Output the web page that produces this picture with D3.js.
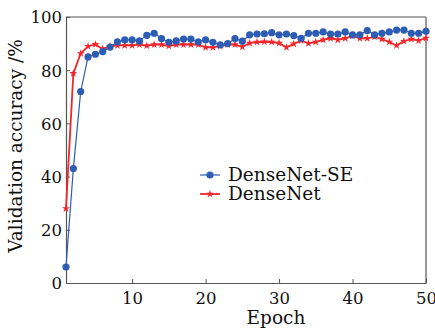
<!DOCTYPE html>
<html>
<head>
<meta charset="utf-8">
<script src="https://cdn.jsdelivr.net/npm/d3@7"></script>
<style>
  body { margin: 0; background: #fff; }
  svg { display: block; font-family: 'DejaVu Serif', 'Liberation Serif', serif; }
</style>
</head>
<body>
<svg id="chart" width="435" height="335"></svg>
<script>
// epochs 1..50
const epochs = d3.range(1, 51);

const denseNetSE = [
  6, 43, 72, 85, 86, 87, 88.7, 90.7, 91.4, 91.4,
  91, 93.1, 93.9, 91.9, 90.5, 91, 91.7, 91.7, 90.7, 91.4,
  90.5, 89.5, 90, 91.9, 90.9, 93.3, 93.6, 93.7, 94.1, 93.3,
  93.6, 93, 92, 93.9, 93.9, 94.4, 93.6, 93.6, 94.4, 93.3,
  93.3, 94.9, 93.3, 93.9, 94.4, 95.1, 95.1, 93.9, 93.9, 94.6
];

const denseNet = [
  28, 78.8, 86.3, 89, 89.7, 88, 89, 89.3, 89.3, 89.3,
  89.6, 89.2, 89.6, 89.6, 89.1, 89.6, 89.6, 89.6, 89.6, 88.6,
  88.6, 89.1, 89.6, 89.6, 88.8, 90.2, 90.6, 90.7, 90.6, 90.2,
  88.6, 89.9, 91.1, 90.1, 90.6, 91.4, 92, 91.4, 92, 92.9,
  92, 92, 92.5, 91.7, 90.6, 89.3, 90.9, 91.7, 91.1, 92.1
];

const xTicks = [10, 20, 30, 40, 50];
const yTicks = [0, 20, 40, 60, 80, 100];

const margins = { left: 66, top: 17, right: 9, bottom: 52 };
const width = 435, height = 335;
const innerWidth = width - margins.left - margins.right;
const innerHeight = height - margins.top - margins.bottom;

const svg = d3.select('#chart');
const g = svg.append('g').attr('transform', `translate(${margins.left},${margins.top})`);

const x = d3.scaleLinear().domain([1, 50]).range([0, innerWidth]);
const y = d3.scaleLinear().domain([0, 100]).range([innerHeight, 0]);

const axisColor = '#555';
const tickFont = '16.5px';
const labelFont = '18.5px';

// ejes con ticks hacia adentro
const xAxis = g.append('g')
  .attr('transform', `translate(0,${innerHeight})`)
  .call(d3.axisBottom(x).tickValues(xTicks).tickSizeInner(-4).tickSizeOuter(0).tickPadding(9));
const yAxis = g.append('g')
  .call(d3.axisLeft(y).tickValues(yTicks).tickSizeInner(-4).tickSizeOuter(0).tickPadding(4));

[xAxis, yAxis].forEach(a => {
  a.select('.domain').attr('stroke', axisColor).attr('stroke-width', 1.2);
  a.selectAll('.tick line').attr('stroke', axisColor);
  a.selectAll('.tick text')
    .attr('fill', '#111')
    .style('font-family', "'DejaVu Serif', 'Liberation Serif', serif")
    .style('font-size', tickFont);
});
yAxis.selectAll('.tick text').attr('dy', '0.36em');

// marco superior y derecho
g.append('line').attr('x1', 0).attr('x2', innerWidth).attr('y1', 0).attr('y2', 0)
  .attr('stroke', axisColor).attr('stroke-width', 1.2);
g.append('line').attr('x1', innerWidth).attr('x2', innerWidth).attr('y1', 0).attr('y2', innerHeight)
  .attr('stroke', axisColor).attr('stroke-width', 1.2);

const line = d3.line().x((d, i) => x(epochs[i])).y(d => y(d));

const blue = '#2c5cb4';
const red = '#f2262b';

// DenseNet
g.append('path').datum(denseNet)
  .attr('fill', 'none').attr('stroke', red).attr('stroke-width', 1.8).attr('d', line);
const star = d3.symbol().type(d3.symbolStar).size(20);
g.selectAll('path.red-mark').data(denseNet).join('path')
  .attr('class', 'red-mark')
  .attr('transform', (d, i) => `translate(${x(epochs[i])},${y(d)})`)
  .attr('d', star).attr('fill', red);

// DenseNet-SE
g.append('path').datum(denseNetSE)
  .attr('fill', 'none').attr('stroke', blue).attr('stroke-width', 1.2).attr('d', line);
g.selectAll('circle.blue-mark').data(denseNetSE).join('circle')
  .attr('class', 'blue-mark')
  .attr('cx', (d, i) => x(epochs[i])).attr('cy', d => y(d))
  .attr('r', 3.6).attr('fill', blue);

// leyenda
const legend = svg.append('g').attr('transform', 'translate(200,175)');
const items = [
  { label: 'DenseNet-SE', color: blue, mark: 'circle' },
  { label: 'DenseNet', color: red, mark: 'star' }
];
items.forEach((it, i) => {
  const row = legend.append('g').attr('transform', `translate(0,${i * 19})`);
  row.append('line').attr('x1', 0).attr('x2', 20).attr('stroke', it.color)
    .attr('stroke-width', it.mark === 'star' ? 1.8 : 1.2);
  if (it.mark === 'circle') {
    row.append('circle').attr('cx', 10).attr('r', 3.6).attr('fill', it.color);
  } else {
    row.append('path').attr('transform', 'translate(10,0)').attr('d', star).attr('fill', it.color);
  }
  row.append('text').attr('x', 28).attr('dy', '0.3em')
    .style('font-size', labelFont).attr('fill', '#111').text(it.label);
});

// títulos
svg.append('text')
  .attr('x', 276).attr('y', 324)
  .attr('text-anchor', 'middle').style('font-size', labelFont).attr('fill', '#111')
  .text('Epoch');
svg.append('text')
  .attr('transform', `translate(22,146) rotate(-90)`)
  .attr('text-anchor', 'middle').style('font-size', labelFont).attr('fill', '#111')
  .text('Validation accuracy /%');
</script>
</body>
</html>
